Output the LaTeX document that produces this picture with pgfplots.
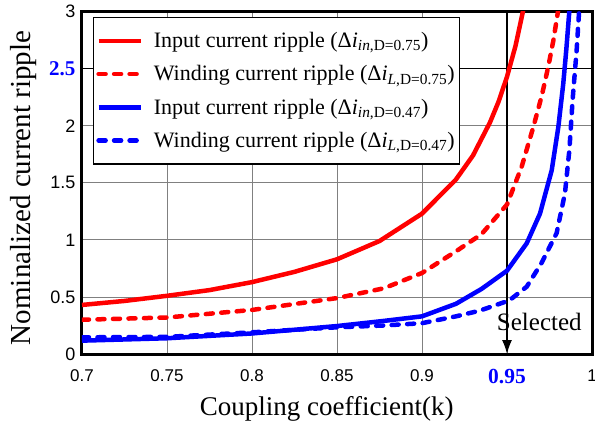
\documentclass[border=0pt]{standalone}
\usepackage{fontspec}
\setmainfont{Liberation Serif}
\setsansfont{Liberation Sans}
\usepackage{pgfplots}
\pgfplotsset{compat=1.18}
\usetikzlibrary{arrows.meta}
\definecolor{rred}{RGB}{255,0,0}
\definecolor{bblue}{RGB}{0,0,255}
\pgfplotsset{legend image code/.code={\draw[#1] (0bp,0bp) -- (42bp,0bp);}}
\begin{document}
\begin{tikzpicture}
\begin{axis}[
  scale only axis, width=510bp, height=342.3bp,
  xmin=0.7, xmax=1, ymin=0, ymax=3,
  xtick={0.7,0.75,0.8,0.85,0.9,0.95,1},
  xticklabels={0.7,0.75,0.8,0.85,0.9,{\rmfamily\bfseries\color{bblue}\fontsize{21.5bp}{22bp}\selectfont 0.95},1},
  ytick={0,0.5,1,1.5,2,2.5,3},
  yticklabels={0,0.5,1,1.5,2,{\rmfamily\bfseries\color{bblue}\fontsize{21bp}{22bp}\selectfont 2.5},3},
  major tick length=0pt,
  grid=major, major grid style={gray, line width=0.9bp},
  axis line style={line width=3bp},
  xticklabel style={font=\sffamily\fontsize{17bp}{18bp}\selectfont, yshift=-12bp},
  yticklabel style={font=\sffamily\fontsize{18bp}{19bp}\selectfont, xshift=-3bp},
  xlabel={Coupling coefficient(k)},
  ylabel={Nominalized current ripple},
  xlabel style={font=\fontsize{27bp}{29bp}\selectfont, at={(axis description cs:0.48,0)}, anchor=base, yshift=-61bp},
  ylabel style={font=\fontsize{29bp}{31bp}\selectfont, at={(axis description cs:-0.114,0.485)}, anchor=center},
  legend cell align=left,
  legend style={at={(axis description cs:0.021,0.985)}, anchor=north west, draw=black, line width=1.3bp, fill=white,
    font=\fontsize{22bp}{24bp}\selectfont, inner xsep=3bp, inner ysep=13bp, row sep=12.5bp, column sep=9bp},
]
\addplot[black, line width=1.5bp, forget plot] coordinates {(0.7,2.5) (1,2.5)};
\addplot[black, line width=1.3bp, -{Latex[length=14bp,width=10bp]}, forget plot] coordinates {(0.95,3) (0.95,0)};

\addplot[rred, line width=4.5bp, line join=round] coordinates {
(0.70,0.43) (0.725,0.465) (0.75,0.51) (0.775,0.56) (0.80,0.63) (0.825,0.72) (0.85,0.83) (0.875,0.99)
(0.90,1.23) (0.92,1.53) (0.93,1.74) (0.94,2.03) (0.945,2.21) (0.95,2.43) (0.955,2.70) (0.9605,3.08)};
\addlegendentry{Input current ripple (Δ\textit{i}\textsubscript{\textit{in},D=0.75})}

\addplot[rred, line width=4.5bp, line cap=round, dash pattern=on 7bp off 8.5bp] coordinates {
(0.70,0.30) (0.75,0.32) (0.80,0.386) (0.85,0.49) (0.8776,0.576) (0.90,0.71) (0.92,0.90) (0.935,1.05)
(0.95,1.31) (0.9586,1.64) (0.9655,1.99) (0.9704,2.26) (0.9743,2.52) (0.9773,2.75) (0.9805,3.05)};
\addlegendentry{Winding current ripple (Δ\textit{i}\textsubscript{\textit{L},D=0.75})}

\addplot[bblue, line width=4.5bp, line join=round] coordinates {
(0.70,0.117) (0.75,0.138) (0.80,0.18) (0.85,0.245) (0.8776,0.29) (0.90,0.33) (0.92,0.44) (0.935,0.57)
(0.95,0.73) (0.9616,0.97) (0.9694,1.23) (0.9763,1.61) (0.9802,1.99) (0.9831,2.37) (0.9849,2.67) (0.9869,3.05)};
\addlegendentry{Input current ripple (Δ\textit{i}\textsubscript{\textit{in},D=0.47})}

\addplot[bblue, line width=4.5bp, line cap=round, dash pattern=on 7bp off 8.5bp] coordinates {
(0.70,0.146) (0.75,0.15) (0.80,0.19) (0.85,0.234) (0.8776,0.25) (0.90,0.27) (0.92,0.33) (0.934,0.38)
(0.9514,0.47) (0.9616,0.59) (0.9704,0.80) (0.9792,1.06) (0.9841,1.41) (0.9867,1.79) (0.9886,2.23) (0.991,2.67) (0.9926,3.05)};
\addlegendentry{Winding current ripple (Δ\textit{i}\textsubscript{\textit{L},D=0.47})}

\node[font=\fontsize{25bp}{26bp}\selectfont, anchor=base] at (axis cs:0.969,0.21) {Selected};
\coordinate (sw) at (rel axis cs:0,0);
\coordinate (ne) at (rel axis cs:1,1);
\end{axis}
\pgfresetboundingbox
\path ([shift={(-82bp,-67bp)}]sw) rectangle ([shift={(3bp,11.7bp)}]ne);
\end{tikzpicture}
\end{document}
